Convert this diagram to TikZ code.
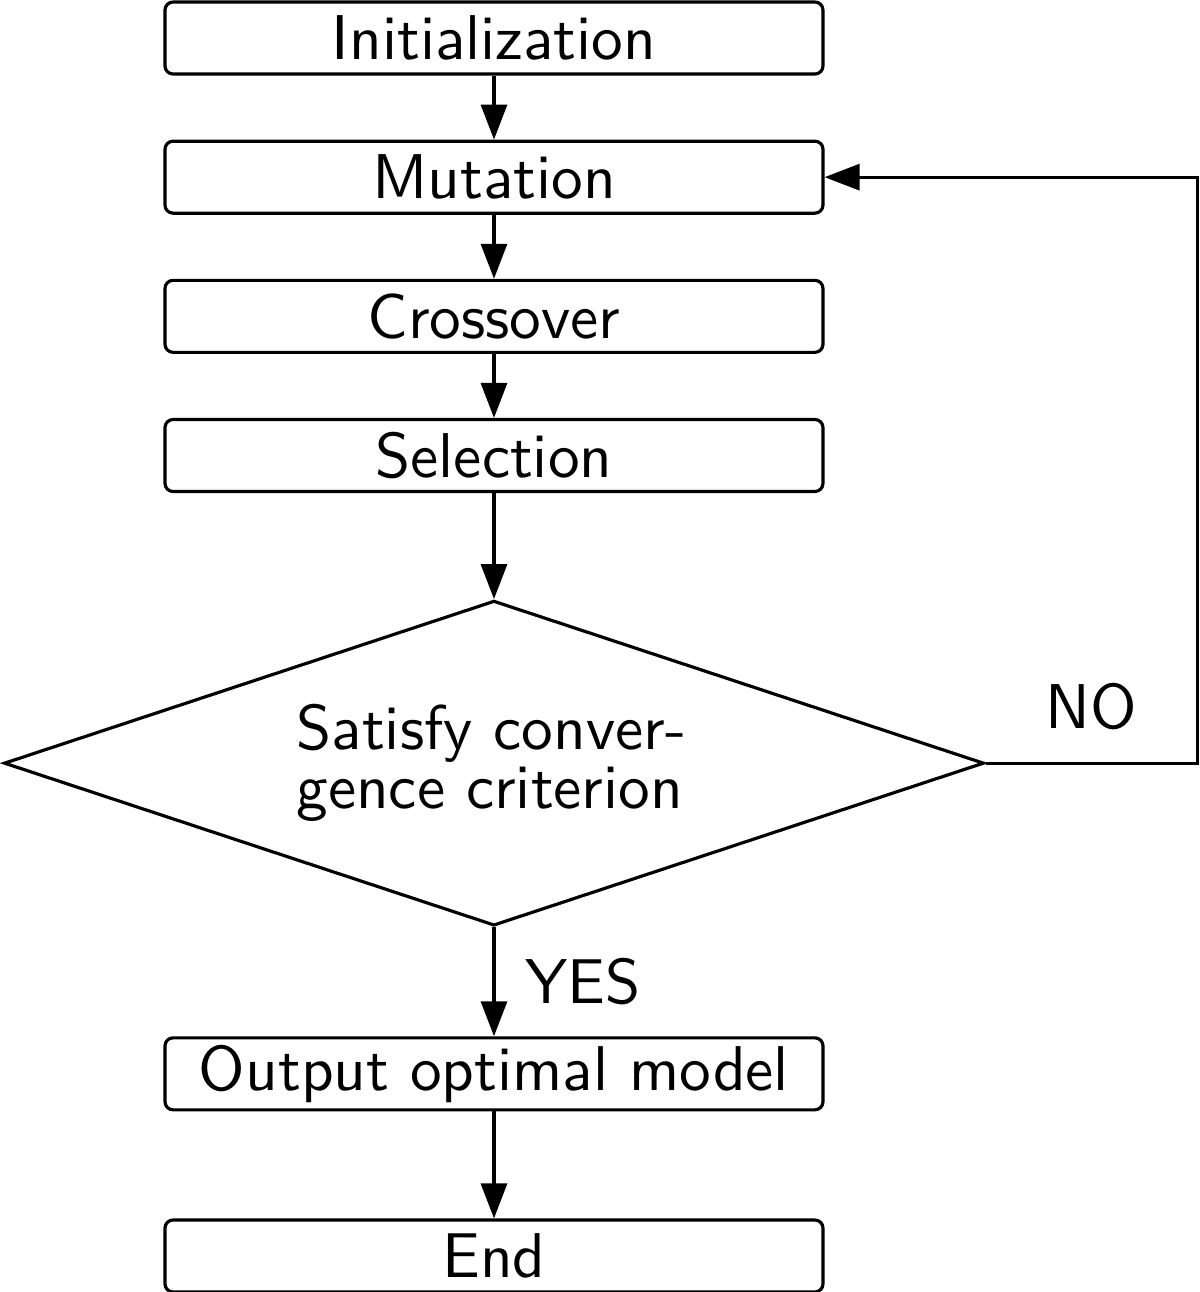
\documentclass[tikz,border=0pt]{standalone}
\usepackage{fontspec}
\setsansfont{lmsans10-regular.otf}
\usepackage{tikz}
\usetikzlibrary{shapes.geometric, arrows.meta, positioning}
\tikzset{
  block/.style={rectangle, draw, rounded corners=2.3pt, line width=0.9pt,
    minimum width=6.58cm, minimum height=0.72cm, inner sep=0pt,
    font=\sffamily\fontsize{18}{17}\selectfont},
  decision/.style={diamond, draw, line width=0.9pt, aspect=3,
    minimum width=9.8cm, minimum height=3.25cm, inner sep=0pt,
    text width=3.95cm, align=left,
    font=\sffamily\fontsize{18}{16.8}\selectfont},
  answer/.style={font=\sffamily\fontsize{18}{17}\selectfont},
  arrow/.style={-{Triangle[length=3.5mm, width=2.6mm]}, line width=0.9pt}
}
\begin{document}
\begin{tikzpicture}[node distance=0.64cm]
  \useasboundingbox (-4.94,0.38) rectangle (7.06,-12.54);
  \node[block] (init) at (0,0) {Initialization};
  \node[block, below=of init] (mut) {Mutation};
  \node[block, below=of mut] (cross) {Crossover};
  \node[block, below=of cross] (sel) {Selection};
  \node[decision, below=1.06cm of sel] (conv) {Satisfy conver-\\gence criterion};
  \node[block, below=1.09cm of conv] (out) {Output optimal model};
  \node[block, below=1.07cm of out] (end) {End};

  \draw[arrow] (init) -- (mut);
  \draw[arrow] (mut) -- (cross);
  \draw[arrow] (cross) -- (sel);
  \draw[arrow] (sel) -- (conv);
  \draw[arrow] (conv) -- node[answer, right=0.18cm] {YES} (out);
  \draw[arrow] (out) -- (end);
  % back to mutation
  \draw[arrow] (conv.east) -- node[answer, above=0.2cm] {NO} ++(2.12,0) |- (mut.east);
\end{tikzpicture}
\end{document}
